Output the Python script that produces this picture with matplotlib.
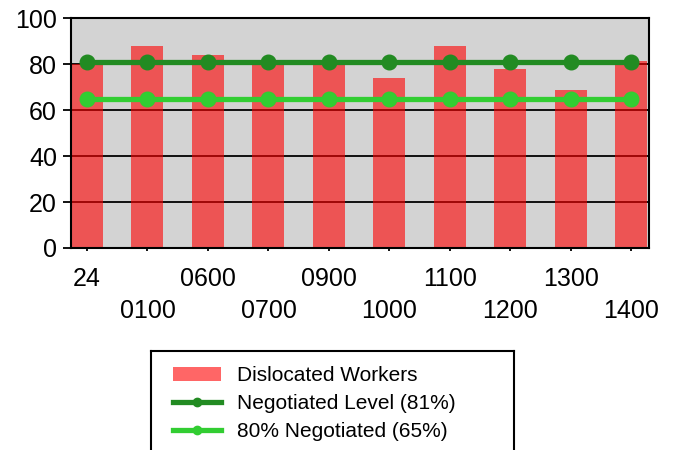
import matplotlib
matplotlib.use("Agg")
import matplotlib.pyplot as plt
from matplotlib.lines import Line2D
from matplotlib.patches import Patch

plt.rcParams['font.family'] = ['Liberation Sans', 'DejaVu Sans']

hours = ["24", "0100", "0600", "0700", "0900", "1000", "1100", "1200", "1300", "1400"]
dislocated = [80, 88, 84, 80, 80, 74, 88, 78, 69, 81.5]
negotiated = [81] * len(hours)
neg_80 = [65] * len(hours)

fig = plt.figure(figsize=(6.8, 4.5), dpi=100)
ax = fig.add_axes([0.1044, 0.449, 0.850, 0.510])
ax.set_facecolor("#d3d3d3")

x = list(range(len(hours)))
ax.bar(x, dislocated, width=0.53, color="red", alpha=0.6, zorder=2)
ax.plot(x, negotiated, color="#228B22", lw=3.8, marker="o", ms=10.5, zorder=3)
ax.plot(x, neg_80, color="#32CD32", lw=3.8, marker="o", ms=10.5, zorder=3)

ax.set_xlim(-0.264, 9.29)
ax.set_ylim(0, 100)
ax.set_yticks([0, 20, 40, 60, 80, 100])
ax.yaxis.grid(True, color="black", lw=1.3)
ax.set_axisbelow(True)
for s in ax.spines.values():
    s.set_linewidth(1.5)

# staggered hour labels
ax.set_xticks(x)
ax.set_xticklabels([h if i % 2 == 0 else "\n" + h for i, h in enumerate(hours)], fontsize=18)
for lab in ax.get_xticklabels():
    lab.set_linespacing(1.45)
ax.tick_params(axis="x", length=2.5, width=1.3, pad=11)
ax.tick_params(axis="y", length=6, width=1.3, pad=4, labelsize=18)

# legend box
lax = fig.add_axes([151 / 680, -0.1, 363 / 680, 0.32])
lax.set_xticks([])
lax.set_yticks([])
for s in lax.spines.values():
    s.set_linewidth(1.5)
handles = [
    Patch(facecolor="red", alpha=0.6),
    Line2D([], [], color="#228B22", lw=3.8, marker="o", ms=6),
    Line2D([], [], color="#32CD32", lw=3.8, marker="o", ms=6),
]
labels = ["Dislocated Workers", "Negotiated Level (81%)", "80% Negotiated (65%)"]
lax.legend(handles, labels, loc="upper left", frameon=False, fontsize=15,
           handlelength=2.3, handletextpad=0.77, labelspacing=0.42,
           borderaxespad=0.3, bbox_to_anchor=(0.02, 0.995))

fig.savefig("out.png", dpi=100)
